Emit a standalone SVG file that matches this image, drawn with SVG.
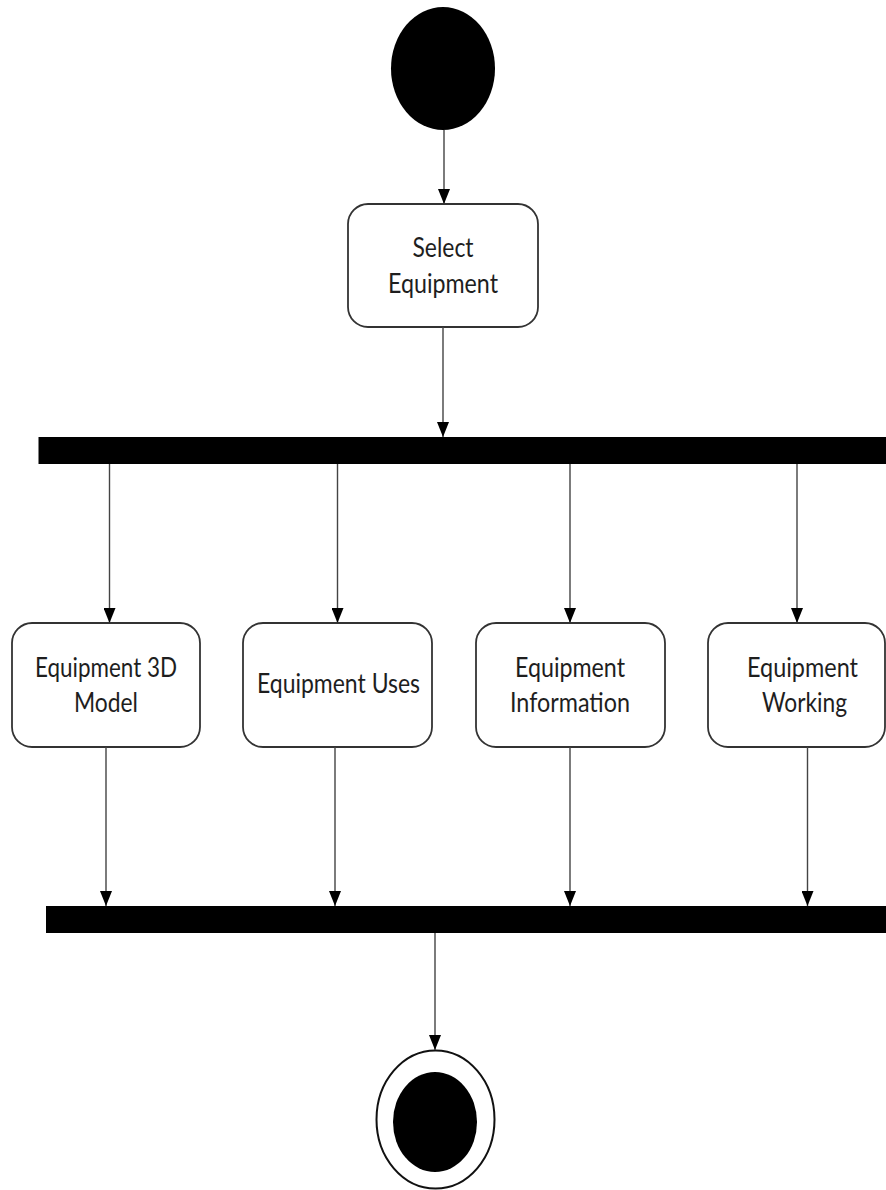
<svg xmlns="http://www.w3.org/2000/svg" width="886" height="1190" viewBox="0 0 886 1190">
  <style>
    .act { fill: #ffffff; stroke: #333333; stroke-width: 1.8; }
    .bar { fill: #000000; }
    .flow { stroke: #444444; stroke-width: 1.4; fill: none; marker-end: url(#arrow); }
    .lbl { font-family: Lato, "Open Sans", "Liberation Sans", sans-serif; font-size: 26px; fill: #1e1e1e; text-anchor: middle; }
  </style>
  <defs>
    <marker id="arrow" viewBox="0 0 15 12" refX="15" refY="6" markerWidth="15" markerHeight="12" markerUnits="userSpaceOnUse" orient="auto">
      <path d="M0,0 L15,6 L0,12 z" fill="#000000"/>
    </marker>
  </defs>

  <rect width="886" height="1190" fill="#ffffff"/>

  <!-- start -->
  <g id="start">
    <ellipse cx="443" cy="68.5" rx="52" ry="61.5" fill="#000000"/>
  </g>

  <!-- select equipment -->
  <g id="select-equipment">
    <rect class="act" x="348" y="204" width="190" height="123" rx="20" ry="20"/>
    <text class="lbl" x="443" y="257" textLength="61" lengthAdjust="spacingAndGlyphs">Select</text>
    <text class="lbl" x="443" y="293" textLength="110" lengthAdjust="spacingAndGlyphs">Equipment</text>
  </g>

  <!-- fork -->
  <g id="fork">
    <rect class="bar" x="38.5" y="437" width="848" height="27"/>
  </g>

  <g id="equipment-3d-model">
    <rect class="act" x="12" y="623" width="188" height="124" rx="20" ry="20"/>
    <text class="lbl" x="106" y="677" textLength="142" lengthAdjust="spacingAndGlyphs">Equipment 3D</text>
    <text class="lbl" x="106" y="712" textLength="64" lengthAdjust="spacingAndGlyphs">Model</text>
  </g>

  <g id="equipment-uses">
    <rect class="act" x="243" y="623" width="189" height="124" rx="20" ry="20"/>
    <text class="lbl" x="338.5" y="693" textLength="163" lengthAdjust="spacingAndGlyphs">Equipment Uses</text>
  </g>

  <g id="equipment-information">
    <rect class="act" x="476" y="623" width="189" height="124" rx="20" ry="20"/>
    <text class="lbl" x="570" y="677" textLength="110" lengthAdjust="spacingAndGlyphs">Equipment</text>
    <text class="lbl" x="570" y="712" textLength="120" lengthAdjust="spacingAndGlyphs">Information</text>
  </g>

  <g id="equipment-working">
    <rect class="act" x="708" y="623" width="177" height="124" rx="20" ry="20"/>
    <text class="lbl" x="802.5" y="677" textLength="111" lengthAdjust="spacingAndGlyphs">Equipment</text>
    <text class="lbl" x="804.5" y="712" textLength="85" lengthAdjust="spacingAndGlyphs">Working</text>
  </g>

  <!-- join -->
  <g id="join">
    <rect class="bar" x="46" y="906" width="840" height="27"/>
  </g>

  <!-- end -->
  <g id="end">
    <ellipse cx="435.5" cy="1119.5" rx="59" ry="69" fill="#ffffff" stroke="#111111" stroke-width="2"/>
    <ellipse cx="435" cy="1122" rx="42" ry="50" fill="#000000"/>
  </g>

  <!-- connectors -->
  <g id="connectors">
    <line class="flow" x1="444" y1="130" x2="444" y2="204"/>
    <line class="flow" x1="443" y1="327" x2="443" y2="437"/>
    <line class="flow" x1="109.5" y1="464" x2="109.5" y2="623"/>
    <line class="flow" x1="337.5" y1="464" x2="337.5" y2="623"/>
    <line class="flow" x1="570" y1="464" x2="570" y2="623"/>
    <line class="flow" x1="797" y1="464" x2="797" y2="623"/>
    <line class="flow" x1="106" y1="747" x2="106" y2="906"/>
    <line class="flow" x1="335" y1="747" x2="335" y2="906"/>
    <line class="flow" x1="570" y1="747" x2="570" y2="906"/>
    <line class="flow" x1="807.5" y1="747" x2="807.5" y2="906"/>
    <line class="flow" x1="435" y1="933" x2="435" y2="1050"/>
  </g>
</svg>
